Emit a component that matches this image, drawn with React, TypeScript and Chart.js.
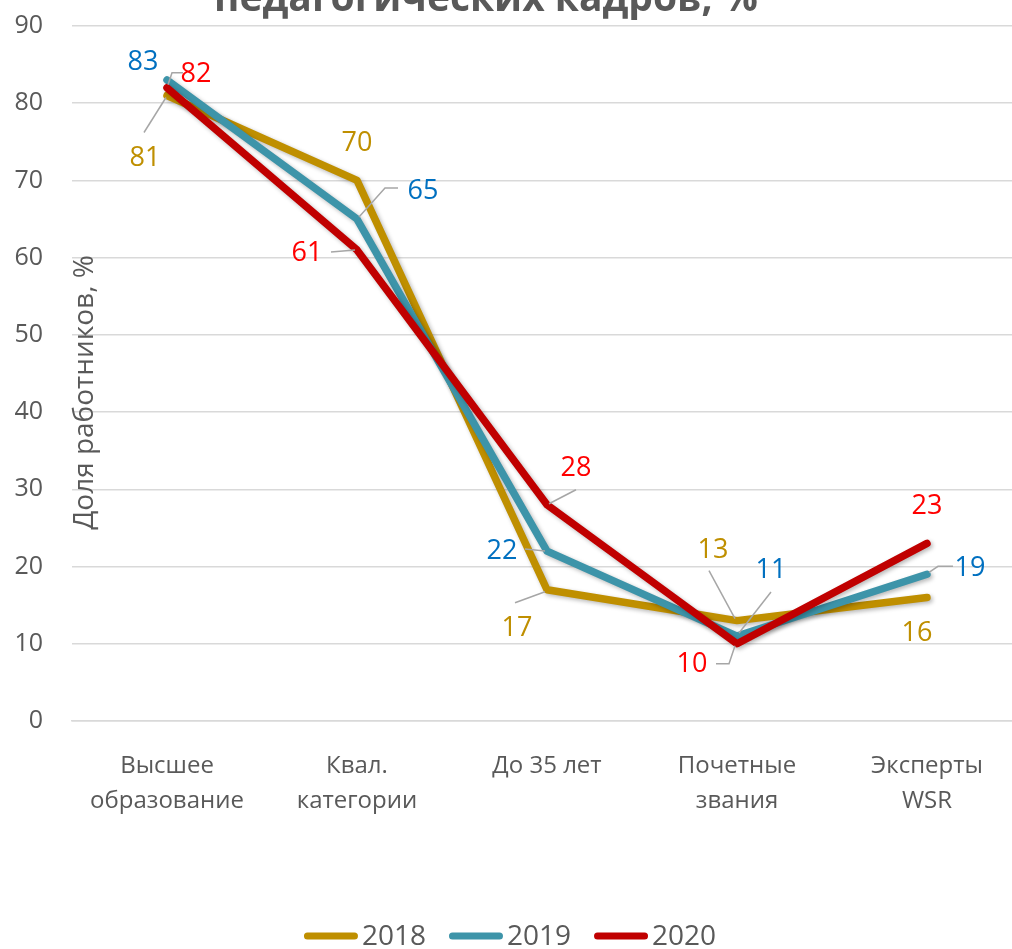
import React, { useEffect, useRef } from "react";
import { Chart, registerables } from "chart.js";

Chart.register(...registerables);

const categories: string[][] = [
  ["Высшее", "образование"],
  ["Квал.", "категории"],
  ["До 35 лет"],
  ["Почетные", "звания"],
  ["Эксперты", "WSR"],
];
const years = ["2018", "2019", "2020"];
const values2018 = [81, 70, 17, 13, 16];
const values2019 = [83, 65, 22, 11, 19];
const values2020 = [82, 61, 28, 10, 23];
const yTicks = [0, 10, 20, 30, 40, 50, 60, 70, 80, 90];
const titleText = "педагогических кадров, %";
const yAxisTitle = "Доля работников, %";

const lineColors = ["#BF8F00", "#3D94A9", "#C00000"];
const labelColors = ["#BF8F00", "#0070C0", "#FF0000"];

// label placement relative to each point: [dx, dy, leader path offsets]
type Place = { dx: number; dy: number; leader?: number[][] };
const placements: Place[][] = [
  [
    { dx: -22, dy: 63, leader: [[-23, 37], [-1, 2]] },
    { dx: 0, dy: -37 },
    { dx: -30, dy: 39, leader: [[-32, 13], [-2, 2]] },
    { dx: -24, dy: -70, leader: [[-28, -50], [-2, -2]] },
    { dx: -10, dy: 36 },
  ],
  [
    { dx: -24, dy: -18 },
    { dx: 66, dy: -28, leader: [[41, -31], [28, -31], [2, -2]] },
    { dx: -45, dy: 0, leader: [[-22, -2], [-2, 0]] },
    { dx: 34, dy: -66, leader: [[34, -44], [2, -3]] },
    { dx: 43, dy: -6, leader: [[26, -8], [11, -8], [2, -2]] },
  ],
  [
    { dx: 29, dy: -13, leader: [[16, -15], [5, -15], [1, -3]] },
    { dx: -50, dy: 3, leader: [[-26, 2], [-2, 0]] },
    { dx: 29, dy: -36, leader: [[29, -15], [2, -1]] },
    { dx: -45, dy: 21, leader: [[-21, 20], [-8, 20], [-2, 2]] },
    { dx: 0, dy: -37 },
  ],
];

const FONT = '"Open Sans", "Noto Sans", sans-serif';
const GRAY = "#595959";
const SHIFT = 18; // canvas is moved up by this many pixels

const shadowPlugin = {
  id: "lineShadow",
  beforeDatasetDraw(chart: any) {
    const ctx = chart.ctx;
    ctx.save();
    ctx.shadowColor = "rgba(0,0,0,0.28)";
    ctx.shadowBlur = 4;
    ctx.shadowOffsetX = 2;
    ctx.shadowOffsetY = 2;
  },
  afterDatasetDraw(chart: any) {
    chart.ctx.restore();
  },
};

const decorPlugin = {
  id: "decor",
  afterDatasetsDraw(chart: any) {
    const ctx = chart.ctx;
    chart.data.datasets.forEach((ds: any, i: number) => {
      const meta = chart.getDatasetMeta(i);
      meta.data.forEach((pt: any, j: number) => {
        const p = placements[i][j];
        if (p.leader) {
          ctx.save();
          ctx.strokeStyle = "#A6A6A6";
          ctx.lineWidth = 1.5;
          ctx.beginPath();
          p.leader.forEach((o, k) => {
            if (k === 0) ctx.moveTo(pt.x + o[0], pt.y + o[1]);
            else ctx.lineTo(pt.x + o[0], pt.y + o[1]);
          });
          ctx.stroke();
          ctx.restore();
        }
        ctx.save();
        ctx.font = `27px ${FONT}`;
        ctx.fillStyle = labelColors[i];
        ctx.textAlign = "center";
        ctx.textBaseline = "middle";
        ctx.fillText(String(ds.data[j]), pt.x + p.dx, pt.y + p.dy);
        ctx.restore();
      });
    });
  },
  afterDraw(chart: any) {
    const ctx = chart.ctx;
    const area = chart.chartArea;
    ctx.save();
    ctx.font = `bold 30px ${FONT}`;
    const w30 = ctx.measureText(titleText).width;
    const size = (30 * 544) / w30;
    ctx.font = `bold ${size}px ${FONT}`;
    ctx.fillStyle = GRAY;
    ctx.textAlign = "center";
    ctx.textBaseline = "alphabetic";
    ctx.fillText(titleText, 486, 11 + SHIFT);
    ctx.restore();

    ctx.save();
    ctx.translate(area.left + 13, (area.top + area.bottom) / 2 + 19);
    ctx.rotate(-Math.PI / 2);
    ctx.font = `28px ${FONT}`;
    ctx.fillStyle = GRAY;
    ctx.textAlign = "center";
    ctx.textBaseline = "middle";
    ctx.fillText(yAxisTitle, 0, 0);
    ctx.restore();

    ctx.save();
    ctx.font = `28px ${FONT}`;
    const sample = 54;
    const gapText = 4;
    const gapItem = 23;
    const items = chart.data.datasets.map((ds: any) => ({
      label: ds.label,
      color: ds.borderColor,
      tw: ctx.measureText(ds.label).width,
    }));
    const total =
      items.reduce((s: number, it: any) => s + sample + gapText + it.tw, 0) +
      gapItem * (items.length - 1);
    let x = 510 - total / 2;
    const cy = 936 + SHIFT;
    items.forEach((it: any) => {
      ctx.strokeStyle = it.color;
      ctx.lineWidth = 7;
      ctx.lineCap = "round";
      ctx.beginPath();
      ctx.moveTo(x + 3.5, cy);
      ctx.lineTo(x + sample - 3.5, cy);
      ctx.stroke();
      x += sample + gapText;
      ctx.fillStyle = GRAY;
      ctx.textAlign = "left";
      ctx.textBaseline = "middle";
      ctx.fillText(it.label, x, cy + 1);
      x += it.tw + gapItem;
    });
    ctx.restore();
  },
};

export default function App() {
  const ref = useRef<HTMLCanvasElement | null>(null);
  useEffect(() => {
    if (!ref.current) return;
    const series = [values2018, values2019, values2020];
    const chart = new Chart(ref.current, {
      type: "line",
      data: {
        labels: categories,
        datasets: series.map((vals, i) => ({
          label: years[i],
          data: vals,
          borderColor: lineColors[i],
          backgroundColor: lineColors[i],
          borderWidth: 7.5,
          borderJoinStyle: "round" as const,
          borderCapStyle: "round" as const,
          pointRadius: 0,
          pointHoverRadius: 0,
          tension: 0,
          order: 3 - i,
        })),
      },
      options: {
        responsive: false,
        animation: false,
        layout: { padding: { top: 6, right: 8, left: 0, bottom: 0 } },
        plugins: {
          legend: { display: false },
          title: { display: false },
          tooltip: { enabled: false },
        },
        scales: {
          x: {
            offset: true,
            grid: { display: false, drawTicks: false },
            border: { display: true, color: "#D9D9D9", width: 1.5 },
            ticks: {
              color: GRAY,
              font: { family: FONT, size: 24, lineHeight: 1.45 },
              padding: 28,
              maxRotation: 0,
              autoSkip: false,
            },
            afterFit(scale: any) {
              scale.height = 228;
            },
          },
          y: {
            min: yTicks[0],
            max: yTicks[yTicks.length - 1],
            afterBuildTicks(scale: any) {
              scale.ticks = yTicks.map((v) => ({ value: v }));
            },
            grid: { color: "#D9D9D9", lineWidth: 1.5, drawTicks: false },
            border: { display: false },
            ticks: {
              color: GRAY,
              font: { family: FONT, size: 25 },
              padding: 29,
            },
            afterFit(scale: any) {
              scale.width = 72;
            },
          },
        },
      },
      plugins: [shadowPlugin, decorPlugin],
    });
    return () => chart.destroy();
  }, []);
  return (
    <div
      style={{
        position: "fixed",
        left: 0,
        top: 0,
        width: 1012,
        height: 949,
        overflow: "hidden",
        background: "#fff",
      }}
    >
      <canvas
        ref={ref}
        width={1030}
        height={949 + SHIFT}
        style={{ display: "block", position: "absolute", left: 0, top: -SHIFT }}
      />
    </div>
  );
}
